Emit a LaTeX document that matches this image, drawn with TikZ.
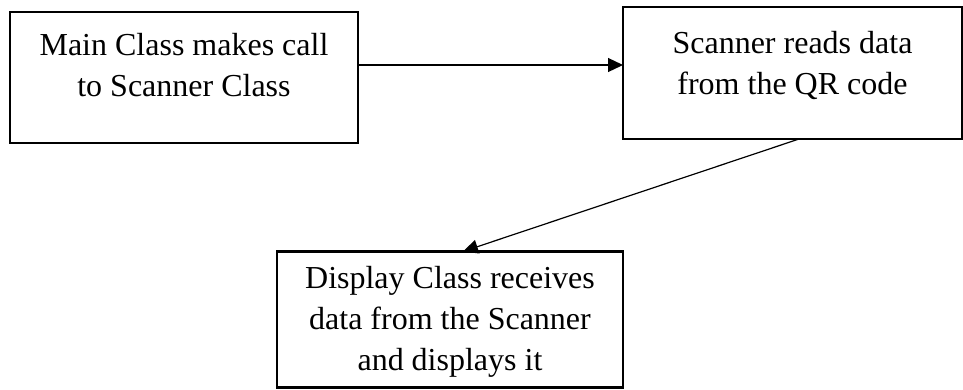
\documentclass[tikz,border=0pt]{standalone}
\usepackage{fontspec}
\setmainfont{Liberation Serif}
\usetikzlibrary{arrows.meta}
\tikzset{
  px/.style={x={(1pt,0)},y={(0,-1pt)}},
  flowbox/.style={draw=black,line width=2.5pt,inner sep=0pt,outer sep=0pt,
    font=\fontsize{32}{41}\selectfont},
  conn/.style={draw=black,line width=1.2pt,-{Triangle[length=15pt,width=14pt]}}
}
\newcommand{\boxtext}[4]{\parbox[c][#2][t]{#1}{\centering\rule{0pt}{#3}#4}}
\begin{document}
\begin{tikzpicture}[px]
\useasboundingbox (0,0) rectangle (963,389);
\node[flowbox] (a) at (184,77.5)
  {\boxtext{348pt}{131pt}{43pt}{Main Class makes call\\to Scanner Class}};
\node[flowbox] (b) at (792.5,73)
  {\boxtext{339pt}{132pt}{46pt}{Scanner reads data\\from the QR code}};
\node[flowbox] (c) at (450,319.5)
  {\boxtext{346pt}{136pt}{37pt}{Display Class receives\\data from the Scanner\\and displays it}};
\draw[conn] ([yshift=12.5pt]a.east) -- ([yshift=12.5pt]a.east -| b.west);
\draw[conn] ([xshift=6.5pt]b.south) -- ([xshift=13pt]c.north);
\end{tikzpicture}
\end{document}
